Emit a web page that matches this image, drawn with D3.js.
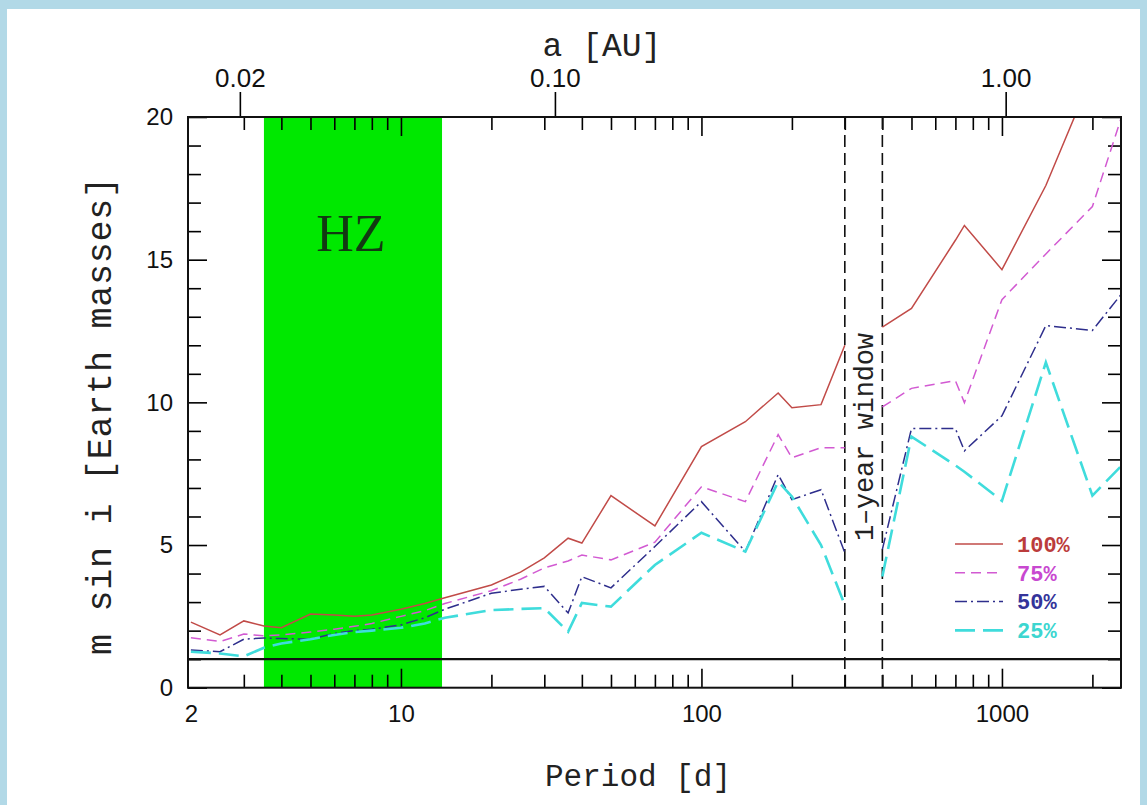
<!DOCTYPE html>
<meta charset="utf-8">
<title>Detection limits</title>
<style>

body {
  margin: 0;
  background: #fff;
}

svg {
  display: block;
}

.axis path {
  display: none;
}

.axis line {
  stroke: #000;
  stroke-width: 1.6px;
}

.axis text {
  font-family: "Liberation Sans", Arial, sans-serif;
  fill: #111;
}

.title {
  font-family: "Liberation Mono", monospace;
  fill: #222;
}

.series {
  fill: none;
}

</style>
<body>
<script src="https://d3js.org/d3.v7.min.js"></script>
<script>

// orbital periods in days (350 = gap inside the 1-year window)
var periods = [2, 2.5, 3, 3.5, 4, 5, 6, 7, 8, 10, 12, 14, 20, 25, 30, 36, 40, 50, 70, 100,
               140, 180, 200, 250, 300, 350, 400, 500, 700, 750, 1000, 1400, 2000, 2500];

// m sin i limits [Earth masses] for each recovery rate
var limit100 = [2.3, 1.85, 2.34, 2.16, 2.1, 2.58, 2.55, 2.5, 2.55, 2.75, 2.95, 3.15, 3.6, 4.05, 4.55, 5.24, 5.07, 6.73, 5.67, 8.45,
                9.32, 10.33, 9.81, 9.92, 12.0, null, 12.64, 13.29, 15.68, 16.2, 14.65, 17.6, 21.5, 24.5];
var limit75 = [1.75, 1.62, 1.88, 1.82, 1.85, 1.95, 2.05, 2.15, 2.25, 2.5, 2.7, 2.95, 3.4, 3.8, 4.2, 4.44, 4.65, 4.48, 5.1, 7.04,
               6.52, 8.87, 8.06, 8.41, 8.41, null, 9.84, 10.49, 10.76, 9.99, 13.6, 15.2, 16.86, 20.0];
var limit50 = [1.32, 1.26, 1.7, 1.74, 1.72, 1.7, 1.9, 2.0, 2.05, 2.2, 2.45, 2.75, 3.31, 3.45, 3.55, 2.62, 3.89, 3.5, 4.95, 6.52,
               4.77, 7.47, 6.59, 6.94, 4.73, null, 4.85, 9.08, 9.08, 8.3, 9.53, 12.69, 12.52, 13.8];
var limit25 = [1.26, 1.2, 1.1, 1.4, 1.55, 1.7, 1.85, 1.95, 2.0, 2.1, 2.25, 2.45, 2.72, 2.76, 2.79, 1.96, 2.97, 2.84, 4.3, 5.43,
               4.77, 7.22, 6.7, 5.0, 2.9, null, 3.9, 8.8, 7.79, 7.57, 6.55, 11.4, 6.73, 7.78];

var seriesNames = ["100%", "75%", "50%", "25%"];
var seriesValues = [limit100, limit75, limit50, limit25];

var habitableZone = [3.5, 13.7];   // days
var yearWindow = [300, 400];       // days
var earthMass = 1;                 // reference line
var starMass = 0.126;              // solar masses, for the a [AU] axis

var periodMajor = [10, 100, 1000];
var periodMinor = [3, 4, 5, 6, 7, 8, 9, 20, 30, 40, 50, 60, 70, 80, 90,
                   200, 300, 400, 500, 600, 700, 800, 900, 2000];
var periodLabels = [2, 10, 100, 1000];
var auTicks = [0.02, 0.10, 1.00];
var massMajor = [0, 5, 10, 15, 20];
var massMinor = [1, 2, 3, 4, 6, 7, 8, 9, 11, 12, 13, 14, 16, 17, 18, 19];

var styles = {
  "100%": {color: "#c14b48", text: "#bb3c3c", width: 1.5, dash: null},
  "75%":  {color: "#d25ad2", text: "#c848d0", width: 1.5, dash: "10,6"},
  "50%":  {color: "#2e2e8c", text: "#34349a", width: 1.5, dash: "12,4,2,4"},
  "25%":  {color: "#3fdcdc", text: "#3cd6d0", width: 2.6, dash: "20,8"}
};

var margin = {top: 117, left: 188},
    width = 1121 - 188,
    height = 687.7 - 117;

var x = d3.scaleLog()
    .domain([1.956, 2490])
    .range([0, width]);

var y = d3.scaleLinear()
    .domain([0, 20])
    .range([height, 0]);

function toAU(p) {
  return Math.cbrt(starMass * Math.pow(p / 365.25, 2));
}

var a = d3.scaleLog()
    .domain(x.domain().map(toAU))
    .range([0, width]);

var svg = d3.select("body").append("svg")
    .attr("width", 1147)
    .attr("height", 805);

svg.append("rect")
    .attr("width", 1147)
    .attr("height", 805)
    .attr("fill", "#b2d9e7");

svg.append("rect")
    .attr("x", 7)
    .attr("y", 9)
    .attr("width", 1133)
    .attr("height", 796)
    .attr("fill", "#fff");

var g = svg.append("g")
    .attr("transform", "translate(" + margin.left + "," + margin.top + ")");

g.append("clipPath")
    .attr("id", "clip")
  .append("rect")
    .attr("width", width)
    .attr("height", height);

// habitable zone
g.append("rect")
    .attr("x", x(habitableZone[0]))
    .attr("width", x(habitableZone[1]) - x(habitableZone[0]))
    .attr("height", height)
    .attr("fill", "#00e800");

g.append("text")
    .attr("x", x(Math.sqrt(habitableZone[0] * habitableZone[1])) - 2)
    .attr("y", 134)
    .attr("text-anchor", "middle")
    .attr("font-family", "Liberation Serif, serif")
    .attr("font-size", 52)
    .attr("fill", "#123a12")
    .text("HZ");

// axes: ticks drawn inside the frame
function tickAxis(axis, scale, values, size) {
  return axis(scale).tickValues(values).tickSize(size).tickFormat("");
}

g.append("g").attr("class", "axis")
    .attr("transform", "translate(0," + height + ")")
    .call(tickAxis(d3.axisBottom, x, periodMajor, -19));
g.append("g").attr("class", "axis")
    .attr("transform", "translate(0," + height + ")")
    .call(tickAxis(d3.axisBottom, x, periodMinor, -13));
g.append("g").attr("class", "axis")
    .call(tickAxis(d3.axisTop, x, periodMajor, -19));
g.append("g").attr("class", "axis")
    .call(tickAxis(d3.axisTop, x, periodMinor, -13));
g.append("g").attr("class", "axis")
    .call(tickAxis(d3.axisLeft, y, massMajor, -19));
g.append("g").attr("class", "axis")
    .call(tickAxis(d3.axisLeft, y, massMinor, -13));
g.append("g").attr("class", "axis")
    .attr("transform", "translate(" + width + ",0)")
    .call(tickAxis(d3.axisRight, y, massMajor, -19));
g.append("g").attr("class", "axis")
    .attr("transform", "translate(" + width + ",0)")
    .call(tickAxis(d3.axisRight, y, massMinor, -13));

// labels
var bottomLabels = g.append("g").attr("class", "axis")
    .attr("transform", "translate(0," + height + ")")
    .call(d3.axisBottom(x).tickValues(periodLabels).tickSize(0).tickPadding(17).tickFormat(d3.format("d")));
bottomLabels.selectAll("text").attr("font-size", 24);

var leftLabels = g.append("g").attr("class", "axis")
    .call(d3.axisLeft(y).tickValues(massMajor).tickSize(0).tickPadding(15));
leftLabels.selectAll("text").attr("font-size", 24);

var topLabels = g.append("g").attr("class", "axis")
    .call(d3.axisTop(a).tickValues(auTicks).tickSize(25).tickPadding(5).tickFormat(d3.format(".2f")));
topLabels.selectAll("text").attr("font-size", 26);

// 1-year window
g.selectAll(".window")
    .data(yearWindow)
  .enter().append("line")
    .attr("class", "window")
    .attr("x1", function(d) { return x(d); })
    .attr("x2", function(d) { return x(d); })
    .attr("y1", 0)
    .attr("y2", height)
    .attr("stroke", "#111")
    .attr("stroke-width", 1.6)
    .attr("stroke-dasharray", "12,6");

g.append("text")
    .attr("class", "title")
    .attr("transform", "translate(" + (x(Math.sqrt(yearWindow[0] * yearWindow[1])) + 9) + "," + 320 + ") rotate(-90)")
    .attr("text-anchor", "middle")
    .attr("font-size", 27)
    .attr("textLength", 208)
    .text("1\u2013year window");

// Earth-mass reference line
g.append("line")
    .attr("x1", 0)
    .attr("x2", width)
    .attr("y1", y(earthMass))
    .attr("y2", y(earthMass))
    .attr("stroke", "#111")
    .attr("stroke-width", 2.2);

// detection limit curves
var line = d3.line()
    .defined(function(d) { return d[1] !== null; })
    .x(function(d) { return x(d[0]); })
    .y(function(d) { return y(d[1]); });

var curves = g.append("g").attr("clip-path", "url(#clip)");

seriesNames.forEach(function(name, k) {
  var s = styles[name];
  curves.append("path")
      .attr("class", "series")
      .attr("d", line(periods.map(function(p, i) { return [p, seriesValues[k][i]]; })))
      .attr("stroke", s.color)
      .attr("stroke-width", s.width)
      .attr("stroke-dasharray", s.dash);
});

// legend
var legend = g.selectAll(".legend")
    .data(seriesNames)
  .enter().append("g")
    .attr("class", "legend")
    .attr("transform", function(d, i) { return "translate(767," + (427 + i * 28.8) + ")"; });

legend.append("line")
    .attr("x1", 0)
    .attr("x2", 48)
    .attr("stroke", function(d) { return styles[d].color; })
    .attr("stroke-width", function(d) { return styles[d].width; })
    .attr("stroke-dasharray", function(d) { return styles[d].dash; });

legend.append("text")
    .attr("x", 62)
    .attr("dy", "0.35em")
    .attr("font-family", "Liberation Mono, monospace")
    .attr("font-weight", "bold")
    .attr("font-size", 22)
    .attr("fill", function(d) { return styles[d].text; })
    .text(function(d) { return d; });

// frame
g.append("rect")
    .attr("width", width)
    .attr("height", height)
    .attr("fill", "none")
    .attr("stroke", "#111")
    .attr("stroke-width", 2);

// axis titles
svg.append("text")
    .attr("class", "title")
    .attr("x", 602)
    .attr("y", 56)
    .attr("text-anchor", "middle")
    .attr("font-size", 33)
    .text("a [AU]");

svg.append("text")
    .attr("class", "title")
    .attr("x", 638)
    .attr("y", 786)
    .attr("text-anchor", "middle")
    .attr("font-size", 31)
    .text("Period [d]");

svg.append("text")
    .attr("class", "title")
    .attr("transform", "translate(111,416) rotate(-90)")
    .attr("text-anchor", "middle")
    .attr("font-size", 35)
    .attr("textLength", 478)
    .text("m sin i [Earth masses]");

</script>
